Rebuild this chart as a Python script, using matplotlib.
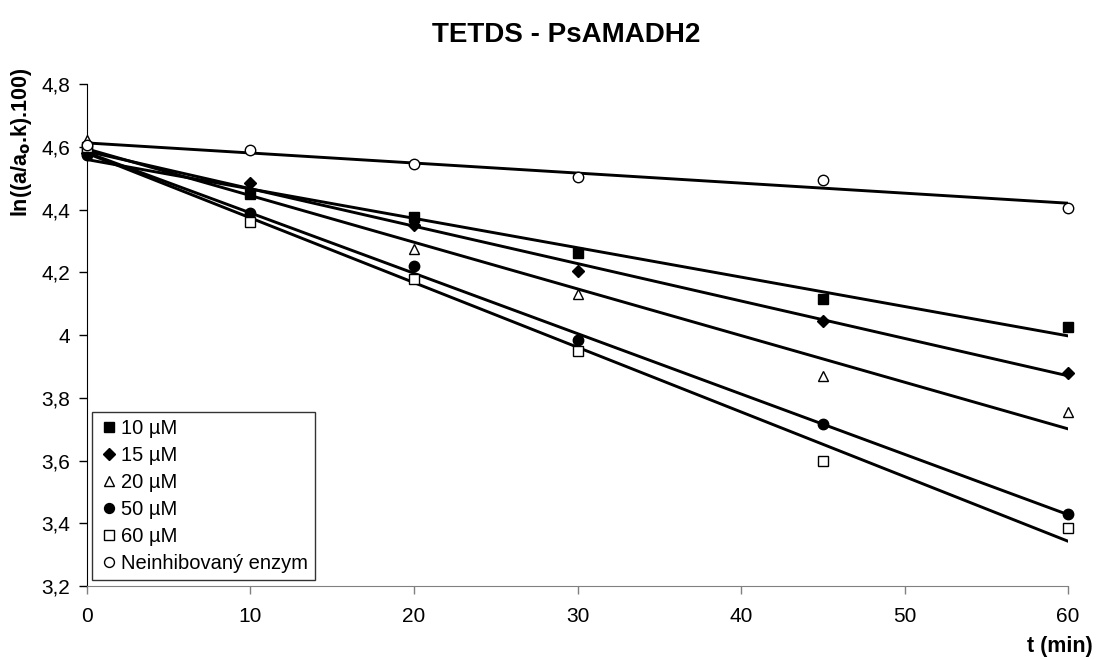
import numpy as np
import matplotlib
matplotlib.use("Agg")
import matplotlib.pyplot as plt

plt.rcParams['font.family'] = ['Liberation Sans', 'DejaVu Sans']

t = [0, 10, 20, 30, 45, 60]
labels = ["10 µM", "15 µM", "20 µM", "50 µM", "60 µM", "Neinhibovaný enzym"]
y10 = [4.585, 4.450, 4.375, 4.260, 4.115, 4.025]
y15 = [4.580, 4.485, 4.350, 4.205, 4.045, 3.880]
y20 = [4.620, 4.455, 4.275, 4.130, 3.870, 3.755]
y50 = [4.575, 4.390, 4.220, 3.985, 3.715, 3.430]
y60 = [4.600, 4.360, 4.180, 3.950, 3.600, 3.385]
y0 = [4.605, 4.590, 4.545, 4.505, 4.495, 4.405]
series = [y10, y15, y20, y50, y60, y0]
markers = ['s', 'D', '^', 'o', 's', 'o']
faces = ['black', 'black', 'white', 'black', 'white', 'white']
msizes = [7.5, 6.5, 7.5, 7.5, 7.5, 7.5]
zords = [3.2, 3.3, 3.0, 3.4, 3.5, 3.6]

fig = plt.figure(figsize=(10.97, 6.60), dpi=100)
ax = fig.add_axes([0.0793, 0.1121, 0.8943, 0.7606])

tx = np.array(t, dtype=float)
for ys in series:
    k, q = np.polyfit(tx, np.array(ys), 1)
    xs = np.array([0.0, 60.0])
    ax.plot(xs, k * xs + q, color='black', lw=2.1, zorder=2)

for ys, m, fc, ms, z, lab in zip(series, markers, faces, msizes, zords, labels):
    ax.plot(t, ys, linestyle='none', marker=m, markerfacecolor=fc,
            markeredgecolor='black', markeredgewidth=1.0, markersize=ms,
            label=lab, zorder=z, clip_on=False)

ax.set_xlim(0, 60)
ax.set_ylim(3.2, 4.8)
ax.set_xticks([0, 10, 20, 30, 40, 50, 60])
ax.set_yticks([3.2, 3.4, 3.6, 3.8, 4.0, 4.2, 4.4, 4.6, 4.8])
ax.set_yticklabels(["3,2", "3,4", "3,6", "3,8", "4", "4,2", "4,4", "4,6", "4,8"])
ax.tick_params(axis='both', direction='out', length=6, labelsize=15, width=1)
ax.tick_params(axis='x', pad=9, color='#808080')
ax.tick_params(axis='y', pad=6)
ax.spines['top'].set_visible(False)
ax.spines['right'].set_visible(False)
ax.spines['left'].set_color('black')
ax.spines['bottom'].set_color('#808080')

fig.text(0.516, 0.947, "TETDS - PsAMADH2", ha='center', va='center',
         fontsize=20, fontweight='bold')
fig.text(0.996, 0.02, "t (min)", ha='right', va='center',
         fontsize=15.5, fontweight='bold')
fig.text(0.02, 0.785, r"ln((a/a$_\mathbf{o}$.k).100)", ha='center', va='center',
         rotation=90, fontsize=15.5, fontweight='bold')

leg = ax.legend(loc='upper left', bbox_to_anchor=(0.005, 0.347), frameon=True,
                fancybox=False, edgecolor='black', fontsize=14.5,
                handletextpad=0.1, handlelength=1.0, labelspacing=0.4,
                borderpad=0.35, markerscale=0.95, borderaxespad=0)
leg.get_frame().set_linewidth(1.0)

fig.savefig("out.png", dpi=100)
